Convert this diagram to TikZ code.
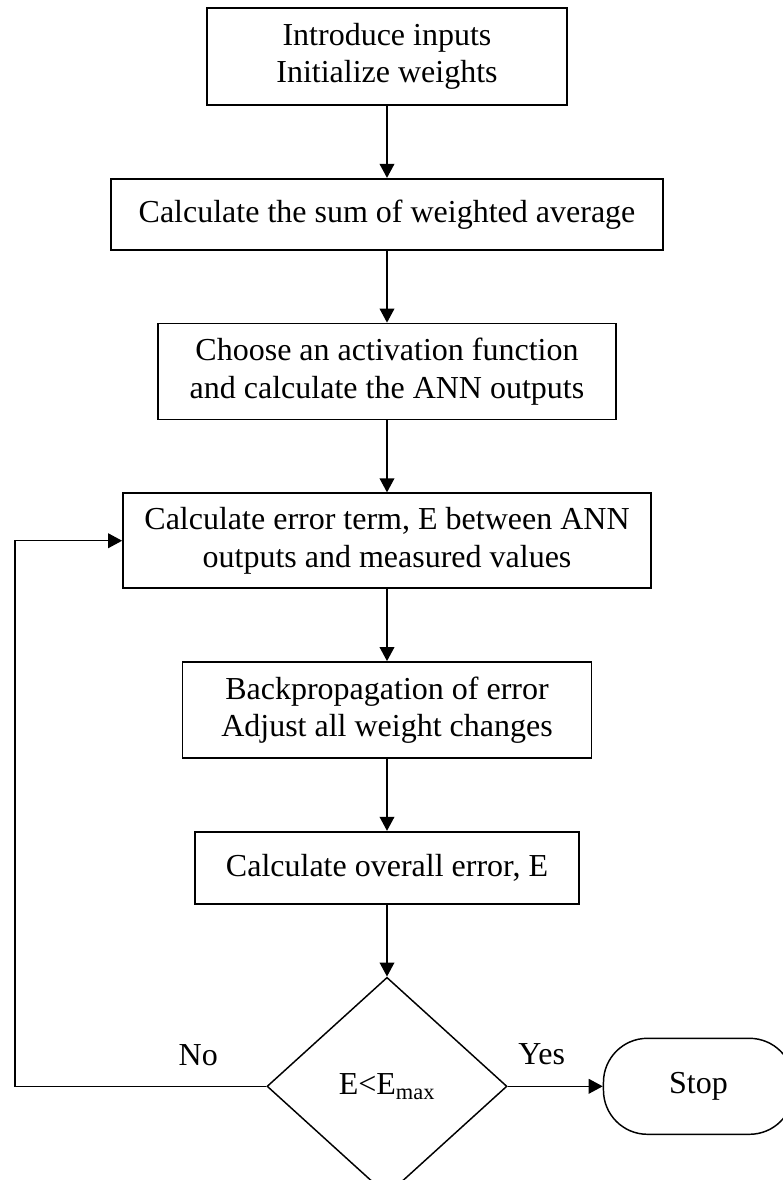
\documentclass[tikz,border=0pt]{standalone}
\usepackage{fontspec}
\setmainfont{Liberation Serif}
\usetikzlibrary{positioning, shapes.geometric, arrows.meta}

\begin{document}
\begin{tikzpicture}[
	font=\fontsize{24}{28}\selectfont,
	stepbox/.style={draw, line width=1.3pt, align=center, inner sep=0pt},
	decide/.style={draw, diamond, line width=1.1pt, inner sep=0pt, minimum width=180pt, minimum height=163.5pt},
	endbox/.style={draw, rounded corners=33pt, line width=1.1pt, minimum width=142.5pt, minimum height=72pt},
	flow/.style={line width=1.1pt, -{Triangle[length=10.5pt, width=11pt]}}
	]
	\useasboundingbox (0,0) rectangle (586.5pt,-885pt);
	
	\node[stepbox, minimum width=270pt, minimum height=72.75pt] (intro) at (290.25pt,-42.4pt) {Introduce inputs\\Initialize weights};
	\node[stepbox, minimum width=414pt, minimum height=53.25pt, below=54pt of intro] (wsum) {Calculate the sum of weighted average};
	\node[stepbox, minimum width=343.5pt, minimum height=72pt, below=54pt of wsum] (activ) {Choose an activation function\\and calculate the ANN outputs};
	\node[stepbox, minimum width=396pt, minimum height=71.25pt, below=54pt of activ] (errterm) {Calculate error term, E between ANN\\outputs and measured values};
	\node[stepbox, minimum width=306.75pt, minimum height=72pt, below=54pt of errterm] (backprop) {Backpropagation of error\\Adjust all weight changes};
	\node[stepbox, minimum width=288pt, minimum height=54pt, below=54pt of backprop] (overall) {Calculate overall error, E};
	
	\node[decide, below=54pt of overall] (check) {E<E\textsubscript{max}};
	\node[endbox, right=71.25pt of check] (stop) {Stop};
	
	\coordinate (rail) at (11.25pt,0);
	
	\path (check.west) ++(-51pt,23pt) node (no) {No};
	\path (check.east) ++(25.5pt,24pt) node (yes) {Yes};
	
	\draw[flow] (intro) -- (wsum);
	\draw[flow] (wsum) -- (activ);
	\draw[flow] (activ) -- (errterm);
	\draw[flow] (errterm) -- (backprop);
	\draw[flow] (backprop) -- (overall);
	\draw[flow] (overall) -- (check);
	\draw[flow] (check) -- (stop);
	\draw[flow] (check.west) -- (check.west -| rail) |- (errterm.west);
\end{tikzpicture}
\end{document}
